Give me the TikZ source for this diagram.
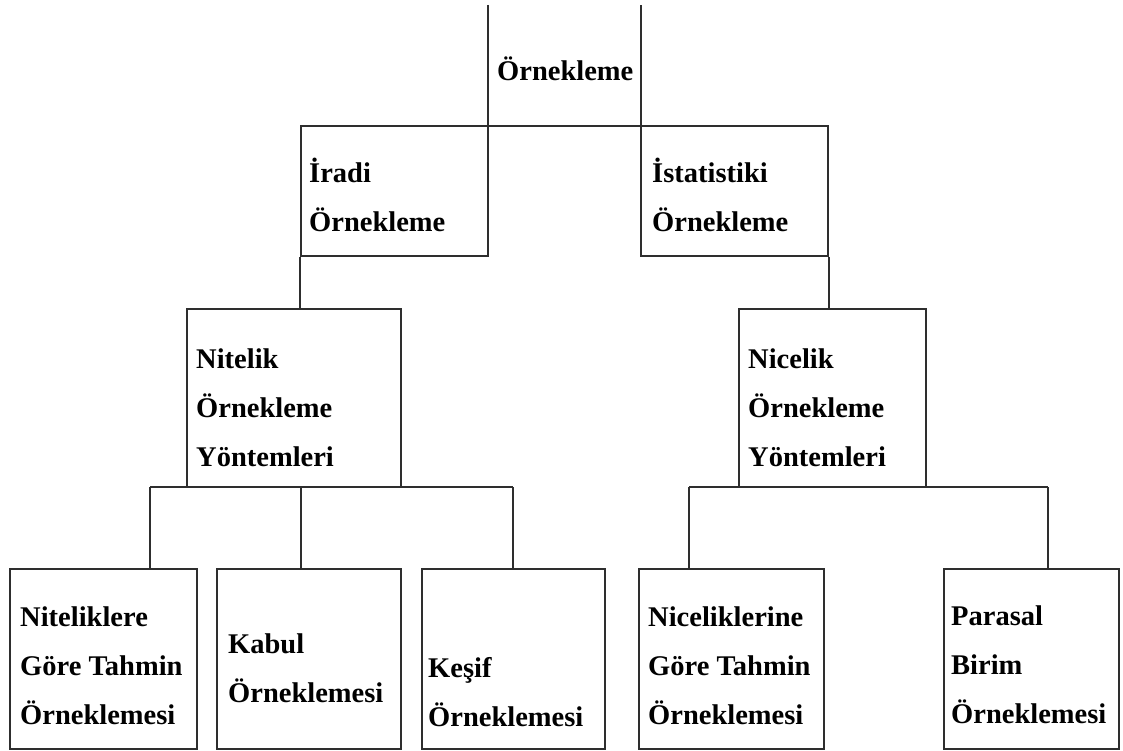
\documentclass[tikz,border=0pt]{standalone}
\usepackage{fontspec}
\setmainfont{Liberation Serif}
\usetikzlibrary{calc}
\definecolor{linec}{HTML}{2E2E2E}
\newcommand{\lns}[1]{\begin{tabular}[t]{@{}l@{}}#1\end{tabular}}
\tikzset{
  box/.style={draw=linec, line width=2.4pt, inner sep=0pt, rectangle},
  conn/.style={draw=linec, line width=2.4pt},
  lbl/.style={anchor=base west, inner sep=0pt, text=black,
    font=\bfseries\fontsize{28.5}{49}\selectfont}
}
\begin{document}
\begin{tikzpicture}[x=1pt,y=-1pt]
\fill[white] (0,0) rectangle (1123,751);
\useasboundingbox (0,0) rectangle (1123,751);

% top box (open top)
\node[inner sep=0pt, minimum width=153pt, minimum height=121pt] (orn) at (564.5,65.5) {};
\draw[conn] (orn.north west) -- (orn.south west) -- (orn.south east) -- (orn.north east);

% second row
\node[box, minimum width=187pt, minimum height=130pt] (iradi) at (394.5,191) {};
\node[box, minimum width=187pt, minimum height=130pt] (istat) at (734.5,191) {};

% third row
\node[box, minimum width=214pt, minimum height=178pt] (nitel) at (294,398) {};
\node[box, minimum width=187pt, minimum height=178pt] (nicel) at (832.5,398) {};

% bottom row
\node[box, minimum width=187pt, minimum height=180pt] (k1) at (103.5,659) {};
\node[box, minimum width=184pt, minimum height=180pt] (k2) at (309,659) {};
\node[box, minimum width=183pt, minimum height=180pt] (k3) at (513.5,659) {};
\node[box, minimum width=185pt, minimum height=180pt] (k4) at (731.5,659) {};
\node[box, minimum width=175pt, minimum height=180pt] (k5) at (1031.5,659) {};

% connectors
\draw[conn] (iradi.south west) -- (iradi.south west |- nitel.north);
\draw[conn] (istat.south east) -- (istat.south east |- nicel.north);

\coordinate (nb1) at (150,487);
\coordinate (nb2) at (301,487);
\coordinate (nb3) at (513,487);
\draw[conn] (nb1) -- (nb3);
\draw[conn] (nb1) -- (nb1 |- k1.north);
\draw[conn] (nb2) -- (nb2 |- k2.north);
\draw[conn] (nb3) -- (nb3 |- k3.north);

\coordinate (cb1) at (689,487);
\coordinate (cb2) at (1048,487);
\draw[conn] (cb1) -- (cb2);
\draw[conn] (cb1) -- (cb1 |- k4.north);
\draw[conn] (cb2) -- (cb2 |- k5.north);

% labels
\node[lbl] (t0) at (497,81) {\lns{Örnekleme}};
\node[lbl] (t1) at (309,183) {\lns{İradi\\Örnekleme}};
\node[lbl] (t2) at (652,183) {\lns{İstatistiki\\Örnekleme}};
\node[lbl] (t3) at (196,368) {\lns{Nitelik\\Örnekleme\\Yöntemleri}};
\node[lbl] (t4) at (748,368) {\lns{Nicelik\\Örnekleme\\Yöntemleri}};
\node[lbl] (t5) at (20,626) {\lns{Niteliklere\\Göre Tahmin\\Örneklemesi}};
\node[lbl] (t6) at (228,653) {\lns{Kabul\\Örneklemesi}};
\node[lbl] (t7) at (428,677) {\lns{Keşif\\Örneklemesi}};
\node[lbl] (t8) at (648,626) {\lns{Niceliklerine\\Göre Tahmin\\Örneklemesi}};
\node[lbl] (t9) at (951,625) {\lns{Parasal\\Birim\\Örneklemesi}};
\end{tikzpicture}
\end{document}
